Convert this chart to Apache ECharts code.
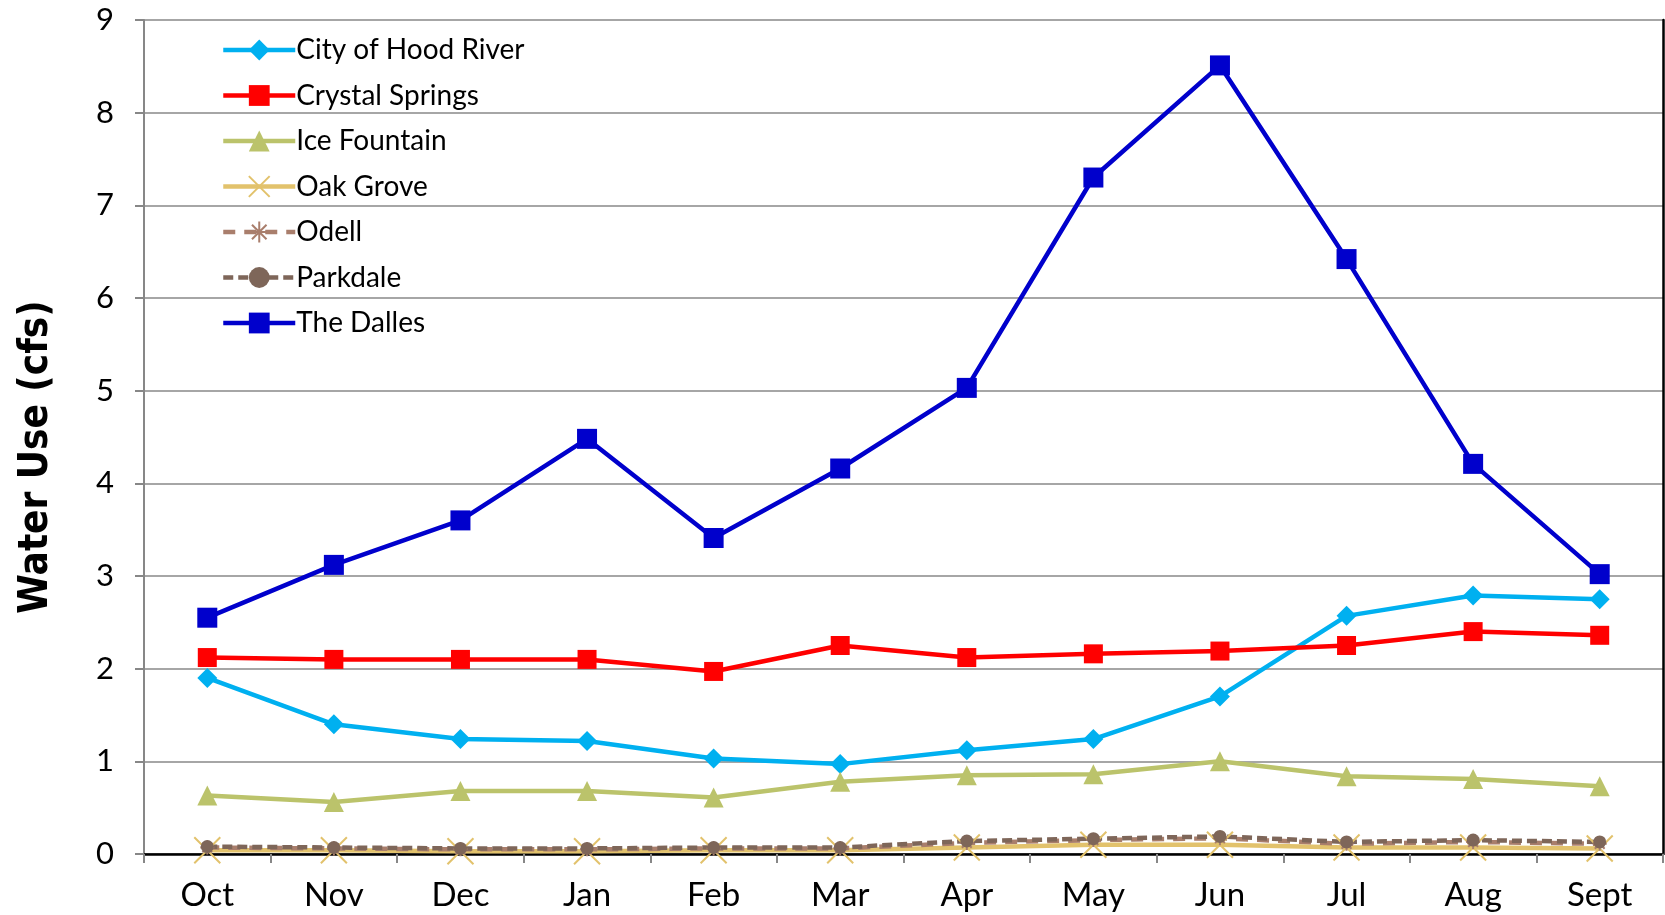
<!DOCTYPE html>
<html>
<head>
<meta charset="utf-8">
<script src="https://cdn.jsdelivr.net/npm/echarts@6/dist/echarts.min.js"></script>
<style>
  html, body { margin: 0; padding: 0; background: #fff; }
  #chart { width: 1665px; height: 915px; }
</style>
</head>
<body>
<div id="chart"></div>
<script>
var months = ['Oct', 'Nov', 'Dec', 'Jan', 'Feb', 'Mar', 'Apr', 'May', 'Jun', 'Jul', 'Aug', 'Sept']
var yTicks = [0, 1, 2, 3, 4, 5, 6, 7, 8, 9]

var hoodRiver = [1.90, 1.40, 1.24, 1.22, 1.03, 0.97, 1.12, 1.24, 1.70, 2.57, 2.79, 2.75]
var crystalSprings = [2.12, 2.10, 2.10, 2.10, 1.97, 2.25, 2.12, 2.16, 2.19, 2.25, 2.40, 2.36]
var iceFountain = [0.63, 0.56, 0.68, 0.68, 0.61, 0.78, 0.85, 0.86, 1.00, 0.84, 0.81, 0.73]
var oakGrove = [0.04, 0.04, 0.03, 0.03, 0.04, 0.04, 0.07, 0.10, 0.10, 0.07, 0.07, 0.06]
var odell = [0.07, 0.06, 0.05, 0.05, 0.06, 0.06, 0.12, 0.15, 0.17, 0.11, 0.13, 0.11]
var parkdale = [0.08, 0.07, 0.06, 0.06, 0.07, 0.07, 0.14, 0.165, 0.19, 0.13, 0.15, 0.13]
var theDalles = [2.55, 3.12, 3.60, 4.48, 3.41, 4.16, 5.03, 7.30, 8.51, 6.42, 4.21, 3.02]

var labelFont = 'Lato, "Open Sans", sans-serif'
var gridGray = '#a6a6a6'
var axisGray = '#878787'

// 把每条线的样式集中在这里
function lineSeries (name, data, color, symbol, size, extra) {
    var s = {
        name: name,
        type: 'line',
        data: data,
        symbol: symbol,
        symbolSize: size,
        showAllSymbol: true,
        lineStyle: { color: color, width: 4.5 },
        itemStyle: { color: color, borderWidth: 0 }
    }
    if (extra) {
        if (extra.lineType) s.lineStyle.type = extra.lineType
        if (extra.stroke) s.itemStyle = { color: 'transparent', borderColor: color, borderWidth: extra.stroke }
    }
    return s
}

var myChart = echarts.init(document.getElementById('chart'))

myChart.setOption({
    animation: false,
    backgroundColor: '#fff',
    grid: { left: 144, top: 20, right: 2, bottom: 61, containLabel: false },
    legend: {
        orient: 'vertical',
        left: 216,
        top: 31,
        itemWidth: 72,
        itemHeight: 26,
        itemGap: 17.5,
        lineStyle: { width: 4.5 },
        textStyle: { fontFamily: labelFont, fontSize: 28, color: '#000', lineHeight: 28, padding: [0, 0, 0, -4] },
        data: ['City of Hood River', 'Crystal Springs', 'Ice Fountain', 'Oak Grove', 'Odell', 'Parkdale', 'The Dalles']
    },
    xAxis: [{
        type: 'category',
        data: months,
        boundaryGap: true,
        axisLine: { lineStyle: { color: axisGray, width: 2 } },
        axisTick: { show: true, length: 9, lineStyle: { color: axisGray, width: 2 } },
        axisLabel: { fontFamily: labelFont, fontSize: 33, color: '#000', margin: 25 }
    }, {
        type: 'category',
        position: 'top',
        data: months,
        axisLine: { lineStyle: { color: '#000', width: 2.5 } },
        axisTick: { show: false },
        axisLabel: { show: false }
    }],
    yAxis: [{
        type: 'value',
        min: yTicks[0],
        max: yTicks[yTicks.length - 1],
        interval: 1,
        name: 'Water Use (cfs)',
        nameLocation: 'middle',
        nameGap: 87,
        nameTextStyle: {
            fontFamily: '"Liberation Sans Narrow", "DejaVu Sans Condensed", sans-serif',
            fontWeight: 'bold',
            fontSize: 40,
            color: '#000',
            padding: [0, 40, 0, 0]
        },
        axisLine: { show: true, lineStyle: { color: axisGray, width: 2 } },
        axisTick: { show: true, length: 9, lineStyle: { color: axisGray, width: 2 } },
        axisLabel: { fontFamily: labelFont, fontSize: 31, color: '#000', margin: 30 },
        splitLine: { show: true, lineStyle: { color: gridGray, width: 2 } }
    }, {
        type: 'value',
        position: 'right',
        min: yTicks[0],
        max: yTicks[yTicks.length - 1],
        interval: 1,
        axisLine: { show: true, lineStyle: { color: '#000', width: 2.5 } },
        axisTick: { show: false },
        axisLabel: { show: false },
        splitLine: { show: false }
    }],
    series: [
        lineSeries('City of Hood River', hoodRiver, '#00b0f0', 'diamond', 20),
        lineSeries('Crystal Springs', crystalSprings, '#ff0000', 'rect', 19),
        lineSeries('Ice Fountain', iceFountain, '#bbc36b', 'triangle', 20),
        lineSeries('Oak Grove', oakGrove, '#e2c26c', 'path://M0,0 L10,10 M10,0 L0,10', 26, { stroke: 2 }),
        lineSeries('Odell', odell, '#a97e6c', 'path://M5,0 L5,10 M0,5 L10,5 M1.5,1.5 L8.5,8.5 M8.5,1.5 L1.5,8.5', 14, { lineType: [12, 9], stroke: 2 }),
        lineSeries('Parkdale', parkdale, '#7e6659', 'circle', 13, { lineType: [10, 5] }),
        lineSeries('The Dalles', theDalles, '#0000cc', 'rect', 20)
    ]
})
</script>
</body>
</html>
